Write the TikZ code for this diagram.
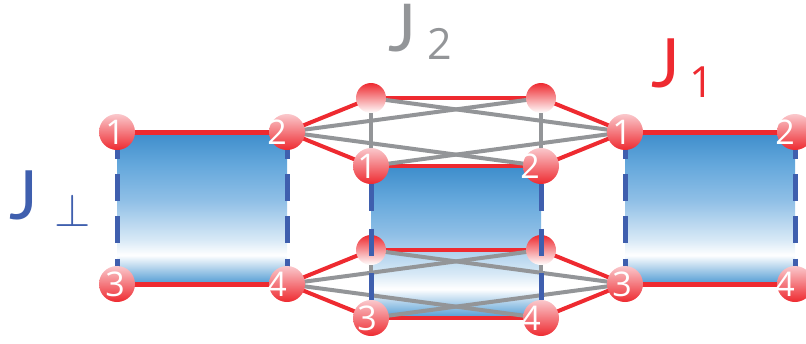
\documentclass[tikz,border=0pt]{standalone}
\usepackage{fontspec}
\usepackage{graphicx}
\setmainfont{Open Sans}
\newfontfamily\jfont{Lato}
\usepgflibrary{shadings}
\definecolor{redc}{HTML}{EE2A30}
\definecolor{greyc}{HTML}{939598}
\definecolor{bluec}{HTML}{3F5FAE}
\definecolor{pinkc}{HTML}{FAC8CC}
\definecolor{pA}{HTML}{3D8DCB}
\definecolor{pE}{HTML}{65A8DC}
\definecolor{pB}{HTML}{8FBFE6}
\definecolor{pC}{HTML}{D8E9F6}
\definecolor{pD}{HTML}{4F9AD3}
\pgfdeclareverticalshading{panelshade}{100bp}{
  color(0bp)=(pD); color(25bp)=(pD);
  color(34.5bp)=(white);
  color(39.5bp)=(pC); color(52.6bp)=(pB); color(64bp)=(pE); color(75bp)=(pA); color(100bp)=(pA)}
\pgfdeclarelayer{under}
\pgfdeclarelayer{over}
\pgfsetlayers{under,main,over}
\tikzset{
  frontball/.style={circle,minimum size=36pt,inner sep=0pt,top color=pinkc,bottom color=redc,shading angle=0},
  backball/.style={circle,minimum size=30pt,inner sep=0pt,top color=redc,bottom color=white},
  num/.style={text=white,font=\fontsize{34}{34}\selectfont,inner sep=0pt},
  panel/.style={shading=panelshade},
  redline/.style={draw=redc,line width=5pt},
  reddiag/.style={draw=redc,line width=4pt},
  greyline/.style={draw=greyc,line width=4pt},
  blueside/.style={draw=bluec,line width=5pt,dash pattern=on 26.5pt off 15.7pt},
  bluemid/.style={draw=bluec,line width=5pt,dash pattern=on 27pt off 17.5pt},
  bigj/.style={font=\jfont\fontsize{68}{68}\selectfont,inner sep=0pt,anchor=base},
  subnum/.style={font=\fontsize{43}{43}\selectfont,inner sep=0pt,anchor=base}
}
\begin{document}
\begin{tikzpicture}[x=1pt,y=-1pt]
\useasboundingbox (0,0) rectangle (806,343);
\clip (0,0) rectangle (806,343);
% spheres
\node[frontball] (L1) at (117,132) {};
\node[frontball] (L2) at (287,132) {};
\node[frontball] (L3) at (117,284) {};
\node[frontball] (L4) at (287,284) {};
\node[frontball] (R1) at (625,132) {};
\node[frontball] (R2) at (795,132) {};
\node[frontball] (R3) at (625,284) {};
\node[frontball] (R4) at (795,284) {};
\node[backball] (TA) at (371,98) {};
\node[backball] (TB) at (541,98) {};
\node[backball] (BA) at (371,250) {};
\node[backball] (BB) at (541,250) {};
\node[frontball] (M1) at (371,166) {};
\node[frontball] (M2) at (541,166) {};
\node[frontball] (M3) at (371,318) {};
\node[frontball] (M4) at (541,318) {};
% digits
\node[num] (nL1) at (115,132) {1};
\node[num] (nL2) at (277,132) {2};
\node[num] (nL3) at (115,284) {3};
\node[num] (nL4) at (277,284) {4};
\node[num] (nR1) at (622,132) {1};
\node[num] (nR2) at (785,132) {2};
\node[num] (nR3) at (622,284) {3};
\node[num] (nR4) at (785,284) {4};
\node[num] (nM1) at (367,166) {1};
\node[num] (nM2) at (530,166) {2};
\node[num] (nM3) at (367,318) {3};
\node[num] (nM4) at (531,318) {4};
% connectors beneath the spheres
\begin{pgfonlayer}{under}
  \path[panel] (L1.center) rectangle (L4.center);
  \path[panel] (R1.center) rectangle (R4.center);
  \path[panel] (M1.center) rectangle (M4.center);
  \draw[blueside] (L1.center) -- (L3.center);
  \draw[blueside] (L2.center) -- (L4.center);
  \draw[blueside] (R1.center) -- (R3.center);
  \draw[blueside] (R2.center) -- (R4.center);
  \draw[redline] (L1.center) -- (L2.center);
  \draw[redline] (L3.center) -- (L4.center);
  \draw[redline] (R1.center) -- (R2.center);
  \draw[redline] (R3.center) -- (R4.center);
  \draw[reddiag] (TA.center) -- (TB.center);
  \draw[reddiag] (M1.center) -- (M2.center);
  \draw[reddiag] (BA.center) -- (BB.center);
  \draw[reddiag] (M3.center) -- (M4.center);
  \draw[reddiag] (L2.center) -- (TA.center);
  \draw[reddiag] (L2.center) -- (M1.center);
  \draw[reddiag] (R1.center) -- (TB.center);
  \draw[reddiag] (R1.center) -- (M2.center);
  \draw[reddiag] (L4.center) -- (BA.center);
  \draw[reddiag] (L4.center) -- (M3.center);
  \draw[reddiag] (R3.center) -- (BB.center);
  \draw[reddiag] (R3.center) -- (M4.center);
  \draw[greyline] (TA.center) -- (M1.center);
  \draw[greyline] (TB.center) -- (M2.center);
  \draw[greyline] (BA.center) -- (M3.center);
  \draw[greyline] (BB.center) -- (M4.center);
  \draw[greyline] (L2.center) -- (TB.center);
  \draw[greyline] (L2.center) -- (M2.center);
  \draw[greyline] (R1.center) -- (TA.center);
  \draw[greyline] (R1.center) -- (M1.center);
  \draw[greyline] (L4.center) -- (BB.center);
  \draw[greyline] (L4.center) -- (M4.center);
  \draw[greyline] (R3.center) -- (BA.center);
  \draw[greyline] (R3.center) -- (M3.center);
\end{pgfonlayer}
\begin{pgfonlayer}{over}
  \draw[bluemid] (M1.south) -- (M3.north);
  \draw[bluemid] (M2.south) -- (M4.north);
\end{pgfonlayer}
% labels
\node[bigj,text=bluec] (jperp) at (24,219) {J};
\node[text=bluec,inner sep=0pt] (perp) at (73,210.5) {\scalebox{2.25}{\fontsize{20}{20}\selectfont$\perp$}};
\node[bigj,text=greyc,font=\jfont\fontsize{66}{66}\selectfont] (jtwo) at (402,51) {J};
\node[subnum,text=greyc] (stwo) at (439.5,59) {2};
\node[bigj,text=redc] (jone) at (666,87) {J};
\node[subnum,text=redc] (sone) at (702,97) {1};
\end{tikzpicture}
\end{document}
